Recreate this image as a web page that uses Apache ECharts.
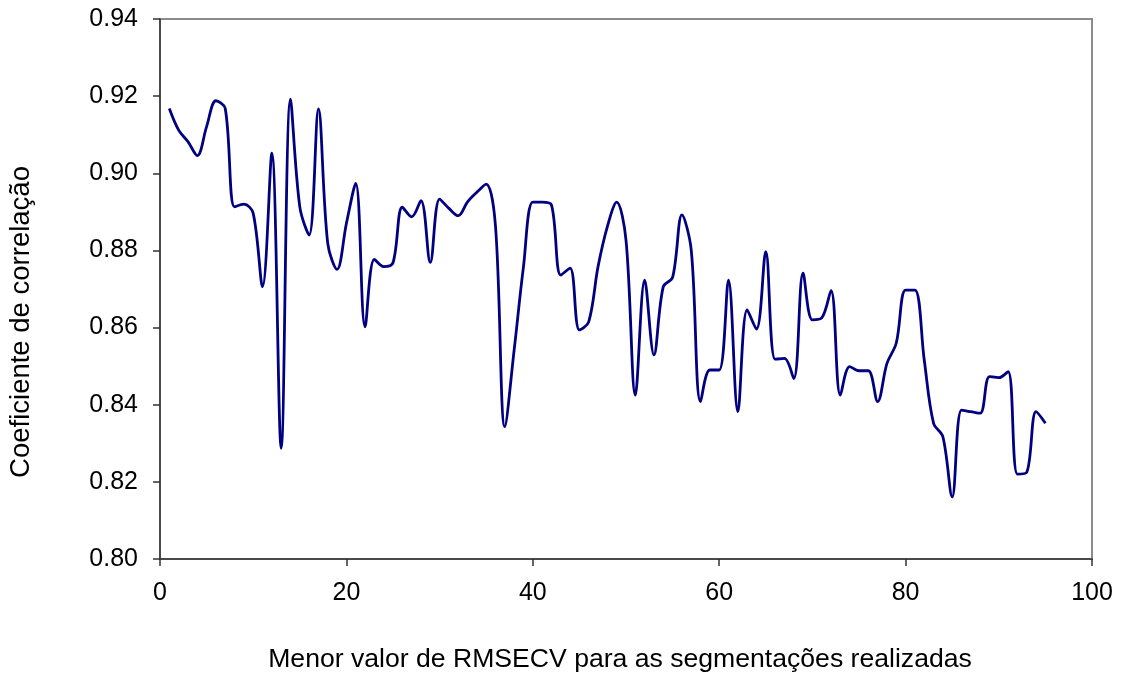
<!DOCTYPE html>
<html>
<head>
<meta charset="utf-8">
<script src="https://cdn.jsdelivr.net/npm/echarts@6/dist/echarts.min.js"></script>
<style>
  html, body { margin: 0; padding: 0; background: #ffffff; }
  #chart { width: 1124px; height: 674px; }
</style>
</head>
<body>
<div id="chart"></div>
<script>
// Segment index (1..95) and correlation coefficient at the lowest RMSECV
const segments = Array.from({ length: 95 }, (_, i) => i + 1);
const correlation = [
  0.9168, 0.9112, 0.9082, 0.9046, 0.9121, 0.9188, 0.9168, 0.8913, 0.8920, 0.8896,
  0.8706, 0.9052, 0.8287, 0.9192, 0.8913, 0.8840, 0.9167, 0.8818, 0.8751, 0.8870,
  0.8974, 0.8602, 0.8777, 0.8758, 0.8768, 0.8912, 0.8887, 0.8929, 0.8769, 0.8933,
  0.8909, 0.8890, 0.8926, 0.8951, 0.8972, 0.8862, 0.8343, 0.8542, 0.8758, 0.8925,
  0.8925, 0.8918, 0.8736, 0.8754, 0.8594, 0.8615, 0.8758, 0.8862, 0.8925, 0.8827,
  0.8425, 0.8723, 0.8529, 0.8706, 0.8730, 0.8892, 0.8801, 0.8408, 0.8490, 0.8490,
  0.8723, 0.8382, 0.8646, 0.8596, 0.8797, 0.8518, 0.8520, 0.8468, 0.8741, 0.8620,
  0.8625, 0.8696, 0.8425, 0.8499, 0.8488, 0.8488, 0.8408, 0.8507, 0.8560, 0.8697,
  0.8697, 0.8516, 0.8352, 0.8317, 0.8161, 0.8386, 0.8382, 0.8378, 0.8473, 0.8470,
  0.8486, 0.8220, 0.8225, 0.8382, 0.8352
];
const xTicks = { min: 0, max: 100, step: 20 };
const yTicks = { min: 0.80, max: 0.94, step: 0.02 };

const xTitle = 'Menor valor de RMSECV para as segmentações realizadas';
const yTitle = 'Coeficiente de correlação';

const font = '"Liberation Sans", Arial, sans-serif';
const chart = echarts.init(document.getElementById('chart'), null, { renderer: 'canvas' });

chart.setOption({
  animation: false,
  backgroundColor: '#ffffff',
  grid: {
    left: 160, right: 32, top: 19, bottom: 115,
    containLabel: false, outerBoundsMode: 'none',
    show: true, borderColor: '#8c8c8c', borderWidth: 2, backgroundColor: 'transparent'
  },
  xAxis: {
    type: 'value',
    min: xTicks.min, max: xTicks.max, interval: xTicks.step,
    name: xTitle, nameLocation: 'middle', nameGap: 87,
    nameTextStyle: { fontFamily: font, fontSize: 26.6, color: '#000', padding: [0, 12, 0, 0] },
    axisLine: { show: true, onZero: false, lineStyle: { color: '#333', width: 1.5 } },
    axisTick: { show: true, length: 7, lineStyle: { color: '#333', width: 1.5 } },
    axisLabel: { fontFamily: font, fontSize: 25, color: '#000', margin: 22 },
    splitLine: { show: false }
  },
  yAxis: {
    type: 'value',
    min: yTicks.min, max: yTicks.max, interval: yTicks.step,
    name: yTitle, nameLocation: 'middle', nameGap: 125,
    nameTextStyle: { fontFamily: font, fontSize: 27.5, color: '#000', padding: [0, 66, 0, 0] },
    axisLine: { show: true, onZero: false, lineStyle: { color: '#333', width: 1.5 } },
    axisTick: { show: true, length: 7, lineStyle: { color: '#333', width: 1.5 } },
    axisLabel: {
      fontFamily: font, fontSize: 25, color: '#000', margin: 22,
      formatter: v => v.toFixed(2)
    },
    splitLine: { show: false }
  },
  series: [{
    type: 'line',
    data: segments.map((s, i) => [s, correlation[i]]),
    smooth: 0.35,
    showSymbol: false,
    lineStyle: { color: '#000080', width: 2.8 }
  }]
});
</script>
</body>
</html>
